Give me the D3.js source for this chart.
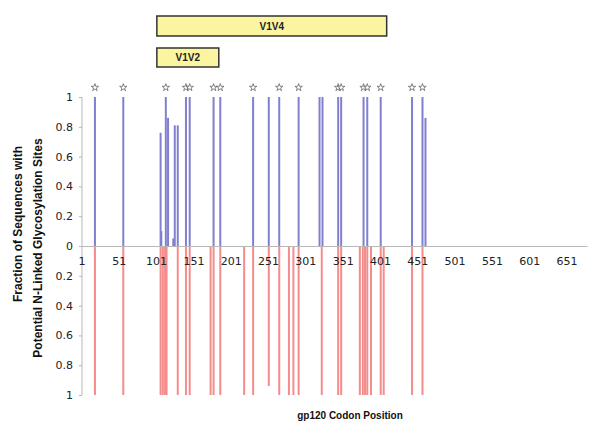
<!DOCTYPE html>
<html><head><meta charset="utf-8">
<script src="https://cdn.jsdelivr.net/npm/d3@7"></script>
<style>body{margin:0;background:#fff;} svg{display:block;}</style>
</head><body>
<script>
// ---- data ----
const topCodons   = [19, 57, 107, 108, 114, 117, 124, 126, 130, 141, 146, 178, 187, 231, 252, 266, 292, 320, 324, 345, 349, 379, 384, 402, 444, 458, 462];
const topValues   = [1,  1,  0.76,0.10,1,   0.86,0.05,0.81,0.81,1,   1,   1,   1,   1,   1,   1,   1,   1,   1,   1,   1,   1,   1,   1,   1,   1,   0.86];
const bottomCodons = [19, 57, 107, 110, 113, 115, 130, 141, 146, 174, 178, 187, 219, 231, 252, 266, 279, 285, 292, 323, 345, 349, 374, 378, 381, 384, 389, 402, 406, 444, 458];
const bottomValues = [1,  1,  1,   1,   1,   1,   1,   1,   1,   1,   1,   1,   1,   1,   0.94,1,   1,   1,   1,   1,   1,   1,   1,   1,   1,   1,   1,   1,   1,   1,   1];
const starCodons = [19, 57, 114, 141, 146, 178, 187, 231, 266, 292, 345, 349, 379, 384, 402, 444, 458];
const regionNames = ["V1V4", "V1V2"];
const regionStart = [102, 102];
const regionEnd   = [410, 185];
const xTickValues = [1, 51, 101, 151, 201, 251, 301, 351, 401, 451, 501, 551, 601, 651];
const yTickValues = [0, 0.2, 0.4, 0.6, 0.8, 1];
const yTitleLines = ["Fraction of Sequences with", "Potential N-Linked Glycosylation Sites"];
const xTitle = "gp120 Codon Position";

// ---- chart ----
const W = 600, H = 434;
const svg = d3.select("body").append("svg").attr("width", W).attr("height", H);

const x = d3.scaleLinear().domain([1, 651]).range([81.5, 566.5]);
const xMax = 679;
const yTop = d3.scaleLinear().domain([0, 1]).range([246, 97]);
const yBot = d3.scaleLinear().domain([0, 1]).range([246, 395]);
const barW = 2;

// bars top
svg.append("g").selectAll("rect").data(topCodons.map((c, i) => ({c, v: topValues[i]})))
  .join("rect")
  .attr("x", d => x(d.c) - barW / 2)
  .attr("y", d => yTop(d.v))
  .attr("width", barW)
  .attr("height", d => yTop(0) - yTop(d.v))
  .attr("fill", "#8080cf");

// bars bottom
svg.append("g").selectAll("rect").data(bottomCodons.map((c, i) => ({c, v: bottomValues[i]})))
  .join("rect")
  .attr("x", d => x(d.c) - barW / 2)
  .attr("y", yBot(0))
  .attr("width", barW)
  .attr("height", d => yBot(d.v) - yBot(0))
  .attr("fill", "#f48c8c");

// axes lines
const axisColor = "#b8b8b8";
svg.append("line").attr("x1", x(1) + 0.5).attr("x2", x(1) + 0.5).attr("y1", yTop(1)).attr("y2", yBot(1))
  .attr("stroke", axisColor).attr("stroke-width", 1);
svg.append("line").attr("x1", x(1)).attr("x2", x(xMax)).attr("y1", yTop(0) + 0.5).attr("y2", yTop(0) + 0.5)
  .attr("stroke", axisColor).attr("stroke-width", 1);

// y ticks top & bottom
const gTop = svg.append("g").attr("transform", `translate(${x(1) + 0.5},0)`)
  .call(d3.axisLeft(yTop).tickValues(yTickValues).tickSize(3).tickFormat(d3.format("~g")));
const gBot = svg.append("g").attr("transform", `translate(${x(1) + 0.5},0)`)
  .call(d3.axisLeft(yBot).tickValues(yTickValues.filter(v => v > 0)).tickSize(3).tickFormat(d3.format("~g")));
[gTop, gBot].forEach(g => {
  g.select(".domain").remove();
  g.selectAll(".tick line").attr("stroke", axisColor);
  g.selectAll(".tick text").attr("x", -9).attr("fill", "#222")
    .style("font-family", "'DejaVu Sans', Verdana, sans-serif").style("font-size", "11px");
});

// x tick labels
const gx = svg.append("g").attr("transform", `translate(0,${yTop(0)})`)
  .call(d3.axisBottom(x).tickValues(xTickValues).tickSize(0).tickFormat(d3.format("d")));
gx.select(".domain").remove();
gx.selectAll(".tick text").attr("y", 11).attr("fill", "#222")
  .style("font-family", "'DejaVu Sans', Verdana, sans-serif").style("font-size", "11px");

// stars
svg.append("g").selectAll("path").data(starCodons).join("path")
  .attr("transform", d => `translate(${x(d)},87.5)`)
  .attr("d", d3.symbol(d3.symbolStar, 17))
  .attr("fill", "#fff").attr("stroke", "#555").attr("stroke-width", 0.7);

// region boxes
const rowY = [16, 48], boxH = [20, 19];
const gr = svg.append("g");
regionNames.forEach((n, i) => {
  gr.append("rect").attr("x", x(regionStart[i])).attr("y", rowY[i])
    .attr("width", x(regionEnd[i]) - x(regionStart[i])).attr("height", boxH[i])
    .attr("fill", "#fbf4a0").attr("stroke", "#333").attr("stroke-width", 1.5);
  gr.append("text").attr("x", (x(regionStart[i]) + x(regionEnd[i])) / 2).attr("y", rowY[i] + boxH[i] / 2 + 3.5)
    .attr("text-anchor", "middle").attr("fill", "#222")
    .style("font-family", "'Liberation Sans', Arial, sans-serif").style("font-size", "10px").style("font-weight", "bold")
    .text(n);
});

// titles
const yCenters = [224, 248], yXs = [22, 42];
yTitleLines.forEach((t, i) => {
  svg.append("text").attr("transform", `translate(${yXs[i]},${yCenters[i]}) rotate(-90)`)
    .attr("text-anchor", "middle").attr("fill", "#111")
    .style("font-family", "'Liberation Sans', Arial, sans-serif").style("font-size", "12px").style("font-weight", "bold")
    .text(t);
});
svg.append("text").attr("x", 350).attr("y", 419).attr("text-anchor", "middle").attr("fill", "#111")
  .style("font-family", "'Liberation Sans', Arial, sans-serif").style("font-size", "10px").style("font-weight", "bold")
  .text(xTitle);
</script>
</body></html>
